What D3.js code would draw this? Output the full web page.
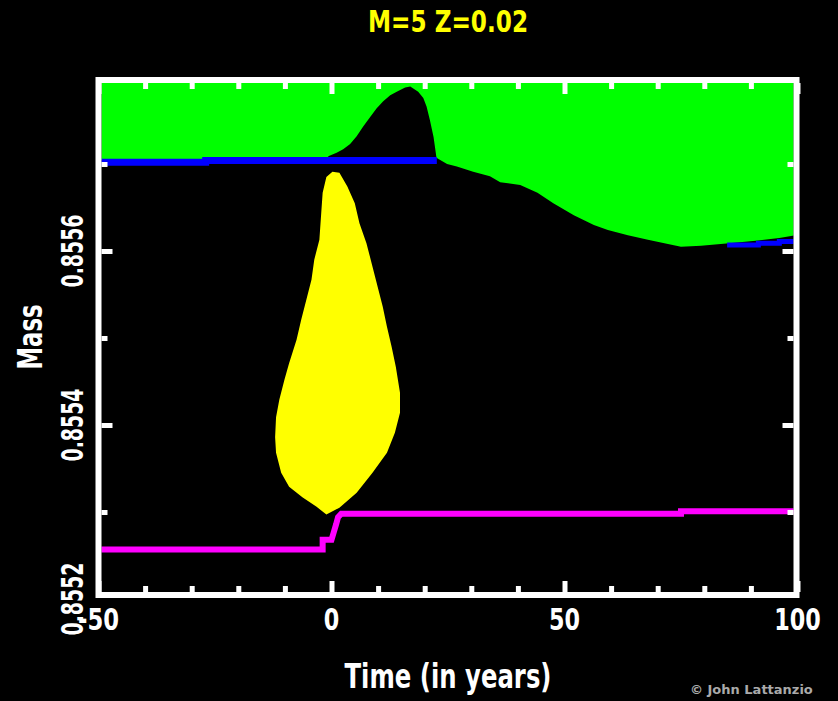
<!DOCTYPE html>
<html>
<head>
<meta charset="utf-8">
<script src="https://cdn.jsdelivr.net/npm/d3@7"></script>
<style>
  html, body { margin: 0; padding: 0; background: #000; }
  svg { display: block; }
</style>
</head>
<body>
<svg id="chart" width="838" height="701"></svg>
<script>
// ---- Axis ticks and labels ----
const timeTicksMajor = [-50, 0, 50, 100];
const timeTicksMinor = [-40, -30, -20, -10, 10, 20, 30, 40, 60, 70, 80, 90];
const timeTickLabels = ["-50", "0", "50", "100"];
const massTicksMajor = [0.8552, 0.8554, 0.8556];
const massTicksMinor = [0.8553, 0.8555, 0.8557];
const massTickLabels = ["0.8552", "0.8554", "0.8556"];

const titleText = "M=5 Z=0.02";
const xTitle = "Time (in years)";
const yTitle = "Mass";
const creditText = "\u00A9 John Lattanzio";

// ---- Base of the convective envelope (green lies above it) ----
const envTime = [-50, -27, -27, 22.6, 24.8, 26.9, 30.4, 34.0, 36.2, 40.5, 44.2, 47.6,
                 52.0, 56.3, 59.3, 63.6, 67.9, 72.2, 75.0, 79.3, 85.3, 91.6, 96.1, 99.4, 100];
const envMass = [0.855705, 0.855705, 0.855707, 0.855707, 0.855700, 0.855697, 0.855691,
                 0.855686, 0.855679, 0.855676, 0.855667, 0.855655, 0.855641, 0.855630,
                 0.855624, 0.855618, 0.855613, 0.855608, 0.855605, 0.855606, 0.855609,
                 0.855612, 0.855615, 0.855618, 0.855620];

// ---- Radiative pocket pushed into the envelope during the pulse ----
const humpTime = [-0.7, 1.1, 2.5, 4.0, 5.4, 6.8, 8.3, 9.7, 11.1, 12.6, 14.0, 15.8, 16.9,
                  18.6, 19.7, 20.4, 21.1, 21.9, 22.4, 22.6];
const humpMass = [0.855709, 0.855713, 0.855717, 0.855723, 0.855732, 0.855743, 0.855754,
                  0.855764, 0.855772, 0.855779, 0.855783, 0.855788, 0.855789,
                  0.855783, 0.855776, 0.855766, 0.855751, 0.855731, 0.855712, 0.855704];

// ---- Blue boundary line (two visible pieces) ----
const blueLeftTime = [-50, -27, -27, 22.6];
const blueLeftMass = [0.855702, 0.855702, 0.855704, 0.855704];
const blueRightTime = [84.9, 91.6, 91.6, 96.1, 96.1, 100];
const blueRightMass = [0.855607, 0.855607, 0.855609, 0.855609, 0.855611, 0.855611];

// ---- Intershell convective zone (outline, clockwise from the top) ----
const pulseTime = [0.2, 1.7, 3.4, 5.0, 6.0, 7.5, 8.8, 9.9, 11.0, 11.9, 12.9, 13.8, 14.7, 14.7,
                   13.6, 11.9, 8.8, 5.4, 1.7, -1.1, -3.2, -6.25, -9.1, -10.8, -11.9, -12.1,
                   -11.9, -11.2, -10.1, -9.1, -7.5, -6.5, -5.4, -4.3, -3.7, -2.6, -2.2, -1.9, -1.1];
const pulseMass = [0.855691, 0.855690, 0.855674, 0.855655, 0.855632, 0.855609, 0.855582,
                   0.855559, 0.855536, 0.855513, 0.855490, 0.855467, 0.855437, 0.855414,
                   0.855391, 0.855368, 0.855345, 0.855322, 0.855305, 0.855297, 0.855306,
                   0.855317, 0.855329, 0.855345, 0.855368, 0.855386, 0.855409, 0.855429,
                   0.855452, 0.855471, 0.855498, 0.855521, 0.855544, 0.855567, 0.855590,
                   0.855613, 0.855644, 0.855667, 0.855685];

// ---- Hydrogen-exhausted core mass (magenta) ----
const coreTime = [-50, -1.9, -1.9, 0.0, 0.5, 1.0, 1.4, 2.1, 75.0, 75.0, 100];
const coreMass = [0.855257, 0.855257, 0.855268, 0.855268, 0.855277, 0.855286, 0.855294,
                  0.855298, 0.855298, 0.855301, 0.855301];

// ---- Drawing ----
const W = 838, H = 701;
const svg = d3.select("#chart");
const FONT = "'DejaVu Sans', 'Liberation Sans', sans-serif";

svg.append("rect").attr("width", W).attr("height", H).attr("fill", "#000");

const x = d3.scaleLinear().domain([-50, 100]).range([98.5, 797.5]);
const y = d3.scaleLinear().domain([0.8552, 0.8558]).range([599, 77]);

// plot frame (stroke centre line) and its inner edges
const frame = { left: 98.5, right: 796.5, top: 80, bottom: 595, width: 6 };
const inner = {
  left: frame.left + frame.width / 2, right: frame.right - frame.width / 2,
  top: frame.top + frame.width / 2, bottom: frame.bottom - frame.width / 2
};

svg.append("clipPath").attr("id", "plotClip")
  .append("rect")
  .attr("x", inner.left).attr("y", inner.top)
  .attr("width", inner.right - inner.left).attr("height", inner.bottom - inner.top);

const plot = svg.append("g").attr("clip-path", "url(#plotClip)");

const zip = (ts, ms) => ts.map((t, i) => [t, ms[i]]);

// convective envelope
plot.append("path")
  .attr("fill", "#00ff00")
  .attr("d", d3.area()
    .x(d => x(d[0]))
    .y0(y(0.8558))
    .y1(d => y(d[1]))(zip(envTime, envMass)));

// radiative pocket inside the envelope
plot.append("path")
  .attr("fill", "#000")
  .attr("d", d3.area()
    .x(d => x(d[0]))
    .y0(y(blueLeftMass[blueLeftMass.length - 1]))
    .y1(d => y(d[1]))(zip(humpTime, humpMass)));

const line = d3.line().x(d => x(d[0])).y(d => y(d[1]));

// blue boundary
plot.append("path")
  .attr("fill", "none").attr("stroke", "#0000ff").attr("stroke-width", 7)
  .attr("d", line(zip(blueLeftTime, blueLeftMass)));
plot.append("path")
  .attr("fill", "none").attr("stroke", "#0000ff").attr("stroke-width", 5)
  .attr("d", line(zip(blueRightTime, blueRightMass)));

// intershell convective zone
plot.append("path")
  .attr("fill", "#ffff00")
  .attr("d", d3.line().curve(d3.curveLinearClosed)
    .x(d => x(d[0])).y(d => y(d[1]))(zip(pulseTime, pulseMass)));

// core mass
plot.append("path")
  .attr("fill", "none").attr("stroke", "#ff00ff").attr("stroke-width", 6)
  .attr("stroke-linejoin", "miter")
  .attr("d", line(zip(coreTime, coreMass)));

// frame
svg.append("rect")
  .attr("x", frame.left).attr("y", frame.top)
  .attr("width", frame.right - frame.left).attr("height", frame.bottom - frame.top)
  .attr("fill", "none").attr("stroke", "#fff").attr("stroke-width", frame.width);

// inward-pointing ticks on all four sides
function ticks(axisGen, transform, values, len) {
  svg.append("g").attr("transform", transform)
    .call(axisGen.tickValues(values).tickSize(-len).tickFormat(() => ""))
    .call(g => g.select(".domain").remove())
    .call(g => g.selectAll(".tick line").attr("stroke", "#fff").attr("stroke-width", 5));
}
const inside = v => y(v) > inner.top && y(v) < inner.bottom;
const majorMass = massTicksMajor.filter(inside);

ticks(d3.axisBottom(x), `translate(0,${inner.bottom})`, timeTicksMinor, 6);
ticks(d3.axisBottom(x), `translate(0,${inner.bottom})`, timeTicksMajor, 11);
ticks(d3.axisTop(x), `translate(0,${inner.top})`, timeTicksMinor, 6);
ticks(d3.axisTop(x), `translate(0,${inner.top})`, timeTicksMajor, 11);
ticks(d3.axisLeft(y), `translate(${inner.left},0)`, massTicksMinor, 6);
ticks(d3.axisLeft(y), `translate(${inner.left},0)`, majorMass, 11);
ticks(d3.axisRight(y), `translate(${inner.right},0)`, massTicksMinor, 6);
ticks(d3.axisRight(y), `translate(${inner.right},0)`, majorMass, 11);

// text helper: bold, tall, condensed lettering
function label(parent, str, size, len, fill) {
  return parent.append("text")
    .text(str)
    .attr("font-family", FONT)
    .attr("font-weight", "bold")
    .attr("font-size", size)
    .attr("text-anchor", "middle")
    .attr("textLength", len)
    .attr("lengthAdjust", "spacingAndGlyphs")
    .attr("fill", fill);
}

// title
label(svg, titleText, 31, 160, "#ffff00").attr("x", 448).attr("y", 32);

// time tick labels
timeTicksMajor.forEach((v, i) => {
  const s = timeTickLabels[i];
  const len = s.replace("-", "").length * 15.5 + (s.includes("-") ? 10 : 0);
  label(svg, s, 31, len, "#fff").attr("x", x(v)).attr("y", 630);
});

// mass tick labels (rotated)
massTicksMajor.forEach((v, i) => {
  const g = svg.append("g").attr("transform", `translate(83,${y(v)}) rotate(-90)`);
  label(g, massTickLabels[i], 31, 73, "#fff");
});

// axis titles
label(svg, xTitle, 33, 207, "#fff").attr("x", 448).attr("y", 688);
label(svg.append("g").attr("transform", "translate(42,337) rotate(-90)"), yTitle, 33, 65, "#fff");

// credit line in the bottom-right corner
svg.append("text")
  .text(creditText)
  .attr("x", 690).attr("y", 694)
  .attr("font-family", FONT)
  .attr("font-weight", "bold")
  .attr("font-size", 13)
  .attr("fill", "#aaaaaa");
</script>
</body>
</html>
